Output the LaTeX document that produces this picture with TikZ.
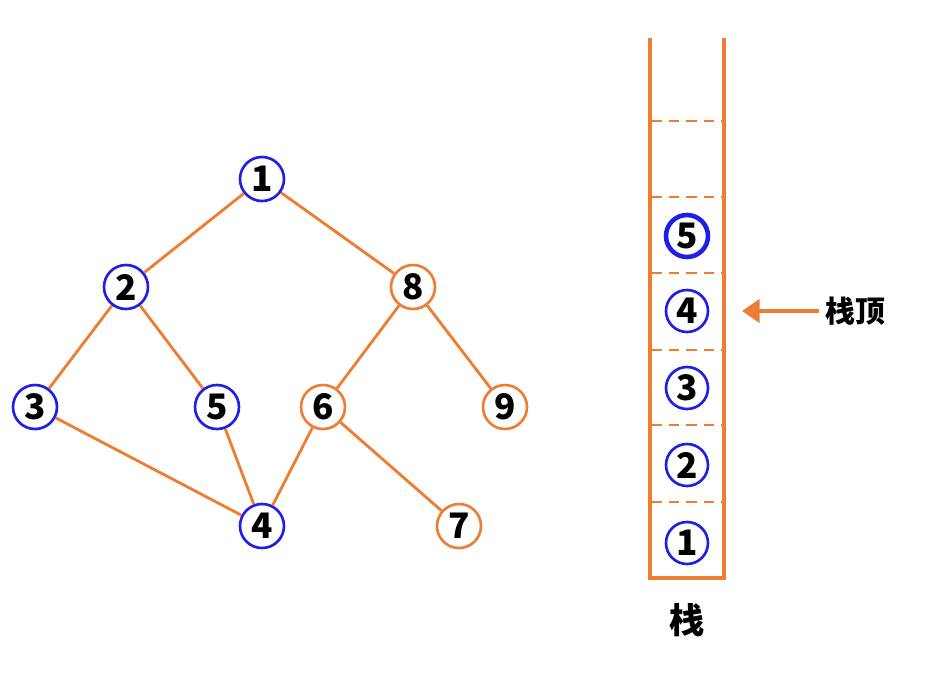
\documentclass[tikz,border=0pt]{standalone}
\usepackage{fontspec}
\setmainfont{Noto Sans CJK SC}
\usetikzlibrary{arrows.meta,positioning}
\definecolor{edgeorange}{RGB}{237,125,49}
\definecolor{nodeblue}{RGB}{30,30,230}

\begin{document}
\begin{tikzpicture}[x=0.02cm,y=-0.02cm,
    vnode/.style={circle,draw=nodeblue,line width=1.5pt,fill=white,minimum size=0.88cm,inner sep=0pt,font=\fontsize{20}{21}\selectfont\bfseries},
    onode/.style={vnode,draw=edgeorange},
    edge/.style={draw=edgeorange,line width=1.6pt},
    wall/.style={draw=edgeorange,line width=1.8pt},
    slot/.style={draw=edgeorange,line width=1.5pt,dash pattern=on 6pt off 4pt}]
  \useasboundingbox[fill=white] (0,0) rectangle (947,677);

  % graph
  \node [vnode] (n1) at (262,179) {1};
  \node [vnode] (n2) at (126,287) {2};
  \node [onode] (n8) at (413,287) {8};
  \node [vnode] (n3) at (35,407) {3};
  \node [vnode] (n5) at (217,407) {5};
  \node [onode] (n6) at (323,407) {6};
  \node [onode] (n9) at (505,407) {9};
  \node [vnode] (n4) at (262,526) {4};
  \node [onode] (n7) at (459,526) {7};

  \foreach \a/\b in {n1/n2,n1/n8,n2/n3,n2/n5,n3/n4,n5/n4,n8/n6,n8/n9,n6/n4,n6/n7} {
    \draw[edge] (\a) -- (\b);
  }

  % stack
  \coordinate (top-l) at (650,38);
  \coordinate (top-r) at (724,38);
  \coordinate (bot-l) at (650,578);
  \coordinate (bot-r) at (724,578);
  \draw[wall] (top-l) -- (bot-l) -- (bot-r) -- (top-r);
  \foreach \y in {121,197,273,350,425,502} {
    \draw[slot] (651,\y) -- (723,\y);
  }

  \node [vnode,minimum size=0.84cm] (s1) at (687,543) {1};
  \node [vnode,minimum size=0.84cm] (s2) at (687,465) {2};
  \node [vnode,minimum size=0.84cm] (s3) at (687,388) {3};
  \node [vnode,minimum size=0.84cm] (s4) at (687,311) {4};
  \node [vnode,minimum size=0.84cm,line width=2.6pt] (s5) at (687,236) {5};

  \node [font=\fontsize{17}{18}\selectfont\bfseries] (top-label) at (855,311) {栈顶};
  \coordinate (top-tip) at (742,311);
  \draw[edgeorange,line width=2.8pt,-{Triangle[length=10pt,width=13pt]}] (top-label.west) -- (top-tip);

  \node [font=\fontsize{20}{22}\selectfont\bfseries] (stack-label) at (687,620) {栈};
\end{tikzpicture}
\end{document}
